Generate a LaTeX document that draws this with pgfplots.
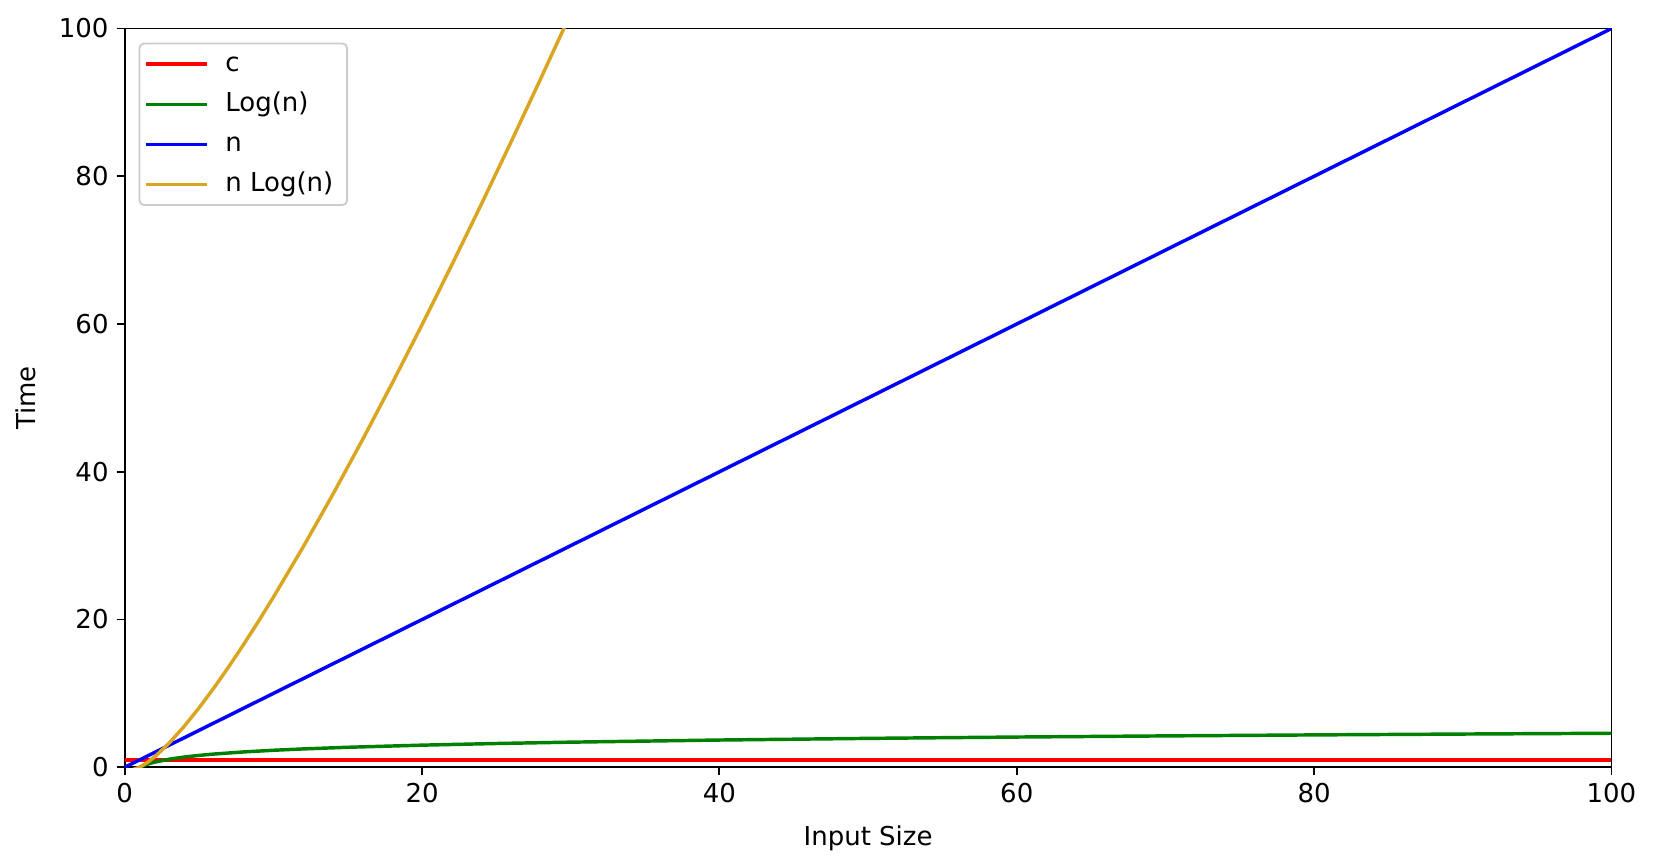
\documentclass[border=0pt]{standalone}
\usepackage{fontspec}
\setmainfont{DejaVu Sans}
\usepackage{pgfplots}
\pgfplotsset{compat=1.18}
\definecolor{mgreen}{rgb}{0,0.5,0}
\definecolor{goldenrod}{RGB}{218,165,32}
\begin{document}
\begin{tikzpicture}
\path[use as bounding box] (-54.2pt,-43.7pt) rectangle (665.8pt,333.4pt);
\begin{axis}[
  at={(0,0)}, anchor=south west,
  scale only axis, width=646pt, height=321pt,
  xmin=0, xmax=100, ymin=0, ymax=100,
  xtick={0,20,40,60,80,100}, ytick={0,20,40,60,80,100},
  xtick pos=bottom, ytick pos=left,
  tick align=outside, major tick length=3.5pt,
  tick style={black, line width=0.8pt},
  axis line style={line width=0.8pt},
  tick label style={font=\fontsize{11.3}{13}\selectfont},
  label style={font=\fontsize{11.3}{13}\selectfont},
  /pgf/number format/assume math mode=true,
  xlabel={Input Size}, ylabel={Time},
  xlabel style={yshift=-3pt}, ylabel style={yshift=3pt},
  clip=true,
  legend cell align=left,
  legend style={at={(0.0093,0.981)}, anchor=north west,
    draw=black!20, rounded corners=2pt, line width=0.8pt,
    font=\fontsize{11.3}{13}\selectfont,
    row sep=5.4pt, inner xsep=2pt, inner ysep=3pt,
    nodes={inner xsep=4pt, inner ysep=0pt, text height=9pt, text depth=3pt}},
  legend image code/.code={\draw[#1, line width=1.5pt] (0pt,0pt) -- (26.5pt,0pt);\path (29.8pt,0pt);},
]
\addplot[red, line width=1.5pt] coordinates {(0,1) (100,1)};
\addlegendentry{c}
\addplot[mgreen, line width=1.5pt] coordinates {
(0.2,-1.609) (0.5,-0.693) (1,0) (1.5,0.405) (2,0.693) (3,1.099) (4,1.386) (5,1.609) (6,1.792) (8,2.079) (10,2.303) (12,2.485) (15,2.708) (20,2.996) (25,3.219) (30,3.401) (40,3.689) (50,3.912) (60,4.094) (70,4.248) (80,4.382) (90,4.500) (100,4.605)};
\addlegendentry{Log(n)}
\addplot[blue, line width=1.5pt] coordinates {(0,0) (100,100)};
\addlegendentry{n}
\addplot[goldenrod, line width=1.5pt] coordinates {
(0.5,-0.347) (1,0) (1.5,0.608) (2,1.386) (3,3.296) (4,5.545) (5,8.047) (6,10.751) (7,13.621) (8,16.636) (9,19.775) (10,23.026) (12,29.819) (14,36.947) (16,44.361) (18,52.026) (20,59.915) (22,68.002) (24,76.273) (26,84.711) (28,93.302) (30,102.036)};
\addlegendentry{n Log(n)}
\end{axis}
\end{tikzpicture}
\end{document}
